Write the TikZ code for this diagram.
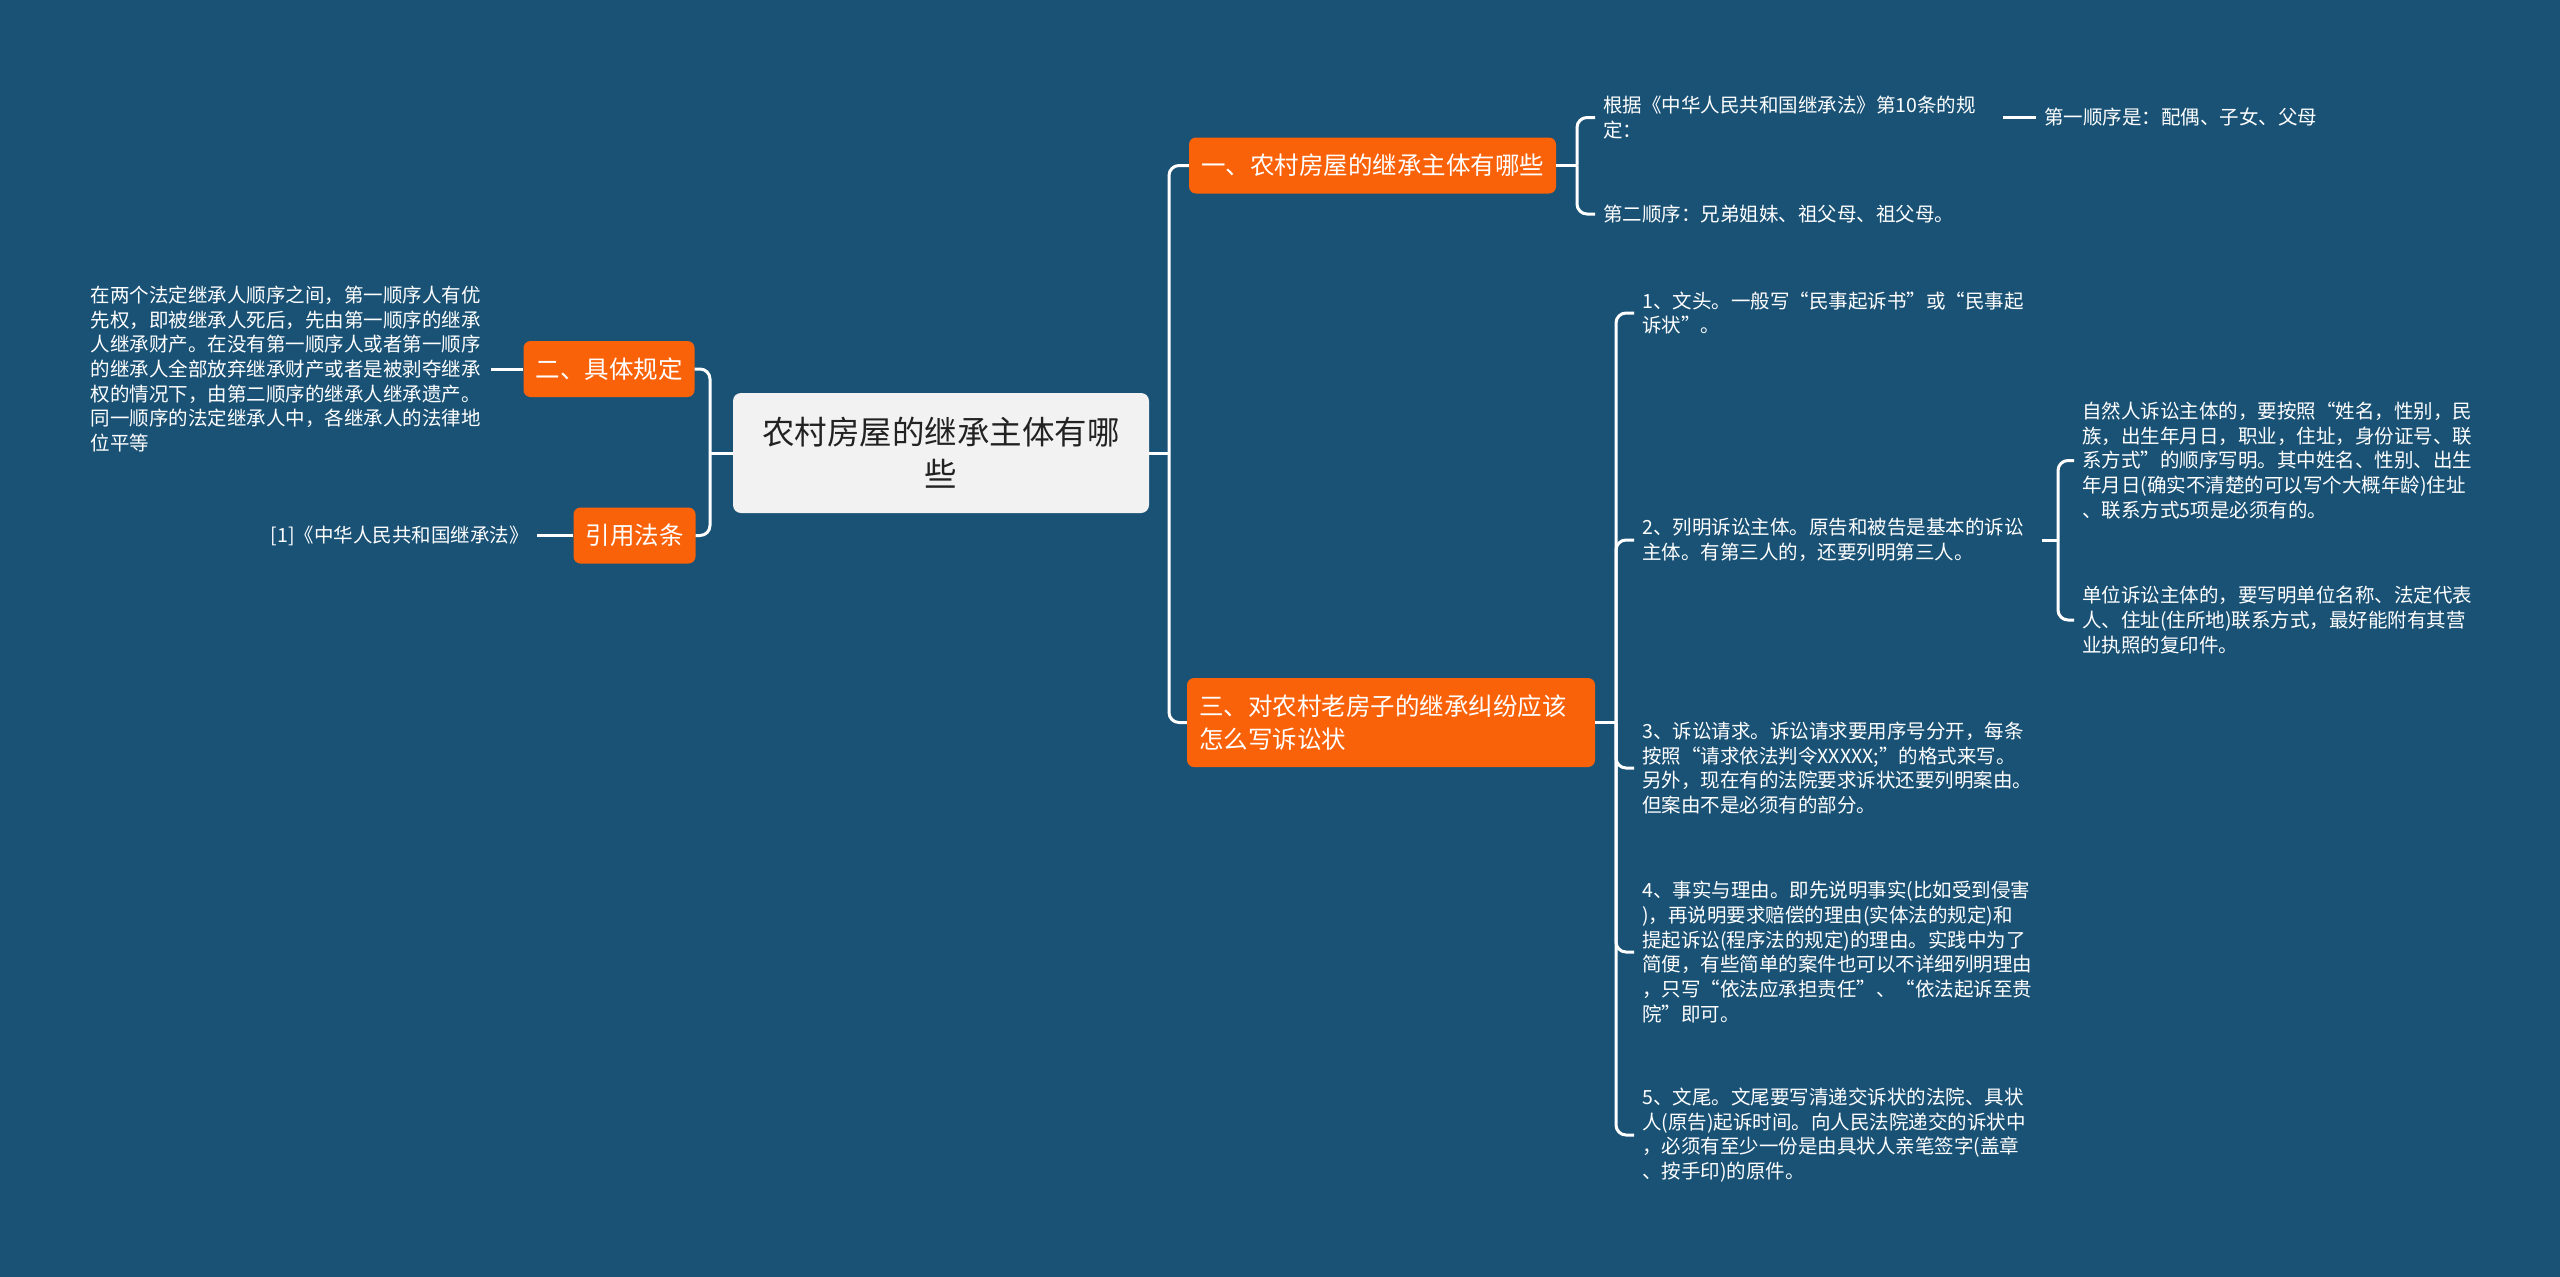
\documentclass[tikz,border=0pt]{standalone}
\usepackage{fontspec}
\setmainfont{Noto Sans CJK SC}
\definecolor{shubg}{RGB}{26,82,118}
\definecolor{shuorange}{RGB}{250,98,10}
\definecolor{shucore}{RGB}{242,242,242}
\definecolor{shuink}{RGB}{34,34,34}

\begin{document}
\begin{tikzpicture}[x=1pt,y=-1pt,
    link/.style={white,line width=3pt,rounded corners=10pt},
    topic/.style={fill=shuorange,text=white,rounded corners=7pt,inner xsep=12pt,minimum height=56pt,font=\fontsize{24.5}{33}\selectfont},
    note/.style={text=white,inner xsep=8pt,inner ysep=2pt,font=\fontsize{19.5}{24.7}\selectfont},
    leaf/.style={note,align=left,text width=392pt}]
  \fill[shubg] (0,0) rectangle (2560,1277);
  % centre and first level
  \node[fill=shucore,text=shuink,rounded corners=8pt,minimum width=416pt,minimum height=120pt,align=center,font=\fontsize{32.5}{42}\selectfont] (root) at (941,453) {农村房屋的继承主体有哪\\些};
  \node[topic] (law) at (609,369) {二、具体规定};
  \node[topic] (ref) at (634.5,535.5) {引用法条};
  \node[topic] (who) at (1372.5,165.5) {一、农村房屋的继承主体有哪些};
  \node[topic,align=left,text width=384pt,minimum height=89pt] (how) at (1391,722.5) {三、对农村老房子的继承纠纷应该\\怎么写诉讼状};
  % left side
  \node[leaf,anchor=east] (rule) at (491,369) {在两个法定继承人顺序之间，第一顺序人有优\\先权，即被继承人死后，先由第一顺序的继承\\人继承财产。在没有第一顺序人或者第一顺序\\的继承人全部放弃继承财产或者是被剥夺继承\\权的情况下，由第二顺序的继承人继承遗产。\\同一顺序的法定继承人中，各继承人的法律地\\位平等};
  \node[note,anchor=east] (cite) at (537,535.5) {[1]《中华人民共和国继承法》};
  % right side, upper branch
  \node[leaf,anchor=west] (basis) at (1595,117.5) {根据《中华人民共和国继承法》第10条的规\\定：};
  \node[note,anchor=west] (first) at (2036,117.5) {第一顺序是：配偶、子女、父母};
  \node[leaf,anchor=west] (second) at (1595,214) {第二顺序：兄弟姐妹、祖父母、祖父母。};
  % right side, lower branch
  \node[leaf,anchor=west] (head) at (1634,313) {1、文头。一般写“民事起诉书”或“民事起\\诉状”。};
  \node[leaf,anchor=west] (party) at (1634,540) {2、列明诉讼主体。原告和被告是基本的诉讼\\主体。有第三人的，还要列明第三人。};
  \node[leaf,anchor=west] (claim) at (1634,768) {3、诉讼请求。诉讼请求要用序号分开，每条\\按照“请求依法判令XXXXX;”的格式来写。\\另外，现在有的法院要求诉状还要列明案由。\\但案由不是必须有的部分。};
  \node[leaf,anchor=west] (facts) at (1634,952) {4、事实与理由。即先说明事实(比如受到侵害\\)，再说明要求赔偿的理由(实体法的规定)和\\提起诉讼(程序法的规定)的理由。实践中为了\\简便，有些简单的案件也可以不详细列明理由\\，只写“依法应承担责任”、“依法起诉至贵\\院”即可。};
  \node[leaf,anchor=west] (tail) at (1634,1135) {5、文尾。文尾要写清递交诉状的法院、具状\\人(原告)起诉时间。向人民法院递交的诉状中\\，必须有至少一份是由具状人亲笔签字(盖章\\、按手印)的原件。};
  \node[leaf,anchor=west] (person) at (2074,460.5) {自然人诉讼主体的，要按照“姓名，性别，民\\族，出生年月日，职业，住址，身份证号、联\\系方式”的顺序写明。其中姓名、性别、出生\\年月日(确实不清楚的可以写个大概年龄)住址\\、联系方式5项是必须有的。};
  \node[leaf,anchor=west] (unit) at (2074,620) {单位诉讼主体的，要写明单位名称、法定代表\\人、住址(住所地)联系方式，最好能附有其营\\业执照的复印件。};
  % connectors
  \coordinate (lj) at (710,453);
  \coordinate (rj) at (1169,453);
  \coordinate (wj) at (1577,165.5);
  \coordinate (hj) at (1616,722.5);
  \coordinate (pj) at (2058,540);
  \draw[link] (root.west) -- (lj);
  \foreach \n in {law,ref} \draw[link] (lj) |- (\n.east);
  \draw[link] (law.west) -- (rule.east);
  \draw[link] (ref.west) -- (cite.east);
  \draw[link] (root.east) -- (rj);
  \foreach \n in {who,how} \draw[link] (rj) |- (\n.west);
  \draw[link] (who.east) -- (wj);
  \foreach \n in {basis,second} \draw[link] (wj) |- (\n.west);
  \draw[link] (basis.east) -- (first.west);
  \draw[link] (how.east) -- (hj);
  \foreach \n in {head,party,claim,facts,tail} \draw[link] (hj) |- (\n.west);
  \draw[link] (party.east) -- (pj);
  \foreach \n in {person,unit} \draw[link] (pj) |- (\n.west);
\end{tikzpicture}
\end{document}
